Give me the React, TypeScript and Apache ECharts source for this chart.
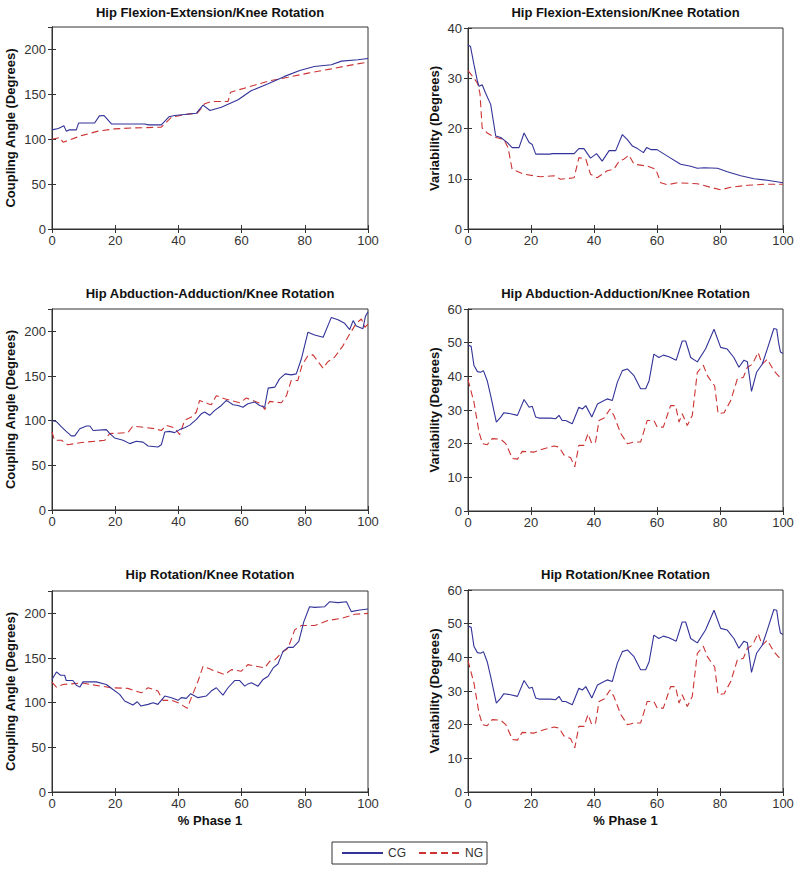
import React, { useEffect, useRef } from "react";
import * as echarts from "echarts";

// ---------- data ----------
const xTicks = { min: 0, max: 100, interval: 20 };
const seriesNames = ["CG", "NG"];
const titles = [
  "Hip Flexion-Extension/Knee Rotation",
  "Hip Flexion-Extension/Knee Rotation",
  "Hip Abduction-Adduction/Knee Rotation",
  "Hip Abduction-Adduction/Knee Rotation",
  "Hip Rotation/Knee Rotation",
  "Hip Rotation/Knee Rotation",
];
const yNames = [
  "Coupling Angle (Degrees)",
  "Variability (Degrees)",
  "Coupling Angle (Degrees)",
  "Variability (Degrees)",
  "Coupling Angle (Degrees)",
  "Variability (Degrees)",
];
const yMaxes = [225, 40, 225, 60, 225, 60];
const yIntervals = [50, 10, 50, 10, 50, 10];
const xName = "% Phase 1";

const flexCouplingCG: number[][] = [
  [0, 110.4], [2, 112], [3.8, 114.9], [4.5, 109], [5.5, 110.4], [7.7, 110.4], [8.4, 118],
  [13.5, 118], [15, 126], [16.5, 126.4], [18.8, 117], [29.3, 117], [30.5, 116], [34.6, 116],
  [37, 125], [38.8, 126.4], [45.7, 129], [47.8, 138], [50, 132], [53.6, 135.7], [58.9, 144],
  [63, 154], [68.4, 161.7], [73.6, 170], [78.4, 176.6], [83, 181], [88.4, 183], [91.6, 187],
  [96.8, 188.5], [100, 190],
];
const flexCouplingNG: number[][] = [
  [0, 100], [2.5, 102], [3.5, 96.6], [5, 98.5], [9.3, 104], [14.6, 109], [19.8, 111.5],
  [26, 112.6], [34.6, 113.4], [37.8, 124.5], [43, 128], [46, 129], [48.3, 139.4], [50.4, 142],
  [55.7, 142], [56.5, 152.4], [62, 158], [68.4, 164.7], [74.7, 169], [81, 173.6], [88.4, 178.4],
  [93.7, 182], [100, 186],
];
const flexVarCG: number[][] = [
  [0, 36.6], [0.8, 36.3], [1.9, 32.7], [3, 29.4], [3.5, 28.4], [4.5, 28.7], [5.6, 27], [7.2, 24.8],
  [8.8, 18.5], [10.4, 18.2], [12.5, 17.2], [14, 16.2], [16.2, 16.2], [17.8, 19.1], [19.4, 17.2],
  [20.4, 16.8], [21.5, 14.9], [26, 14.9], [26.8, 15], [33.7, 15], [35.2, 16], [36.8, 16],
  [38.9, 14.1], [40.8, 15], [42.6, 13.5], [44.8, 15.6], [46.9, 15.6], [49, 18.8], [50.6, 17.8],
  [52.2, 16.5], [53.8, 16], [55.7, 15.2], [56.7, 16.2], [58, 15.8], [60, 15.8], [63.3, 14.5],
  [67.5, 12.9], [70.7, 12.5], [72.8, 12.1], [75, 12.2], [79.2, 12.1], [82.3, 11.4], [86.6, 10.6],
  [90.8, 10], [95, 9.7], [100, 9.2],
];
const flexVarNG: number[][] = [
  [0, 31.5], [1.9, 30], [3, 29], [3.8, 27], [4.5, 20.1], [6.1, 19.1], [8.3, 18.3], [11.4, 17.8],
  [12.7, 16.2], [14, 11.9], [17.8, 10.9], [23, 10.4], [27.3, 10.6], [29.4, 9.9], [33.7, 10.2],
  [35.2, 14.2], [37.4, 13.9], [38.9, 10.9], [41, 10.2], [44.2, 11.6], [46.3, 11.9], [48, 13.5],
  [49.5, 13.9], [51.1, 14.7], [52.7, 12.9], [57, 12.5], [59.6, 11.9], [61.2, 9.2], [63.3, 8.8],
  [66.5, 9.2], [72.8, 9.0], [77, 8.3], [80.2, 7.8], [83.4, 8.3], [88.7, 8.7], [94, 8.9], [100, 8.9],
];
const abdCouplingCG: number[][] = [
  [0, 100], [1.4, 99], [3, 93], [4.5, 88], [6.1, 83], [7.2, 83], [8.8, 91], [10.9, 94], [12, 94],
  [13, 89], [17.2, 90], [18.3, 85.5], [19.8, 80.7], [22.5, 78], [24.6, 74.3], [26.7, 77],
  [28.8, 76], [30.4, 71.7], [33.5, 70.6], [34.6, 73], [35.7, 87.4], [37.2, 88], [38.8, 86.6],
  [40.4, 90], [42, 92], [43.6, 95], [45.7, 101.5], [47.3, 107.8], [48.3, 109.7], [49.9, 106],
  [51.5, 111.5], [53.6, 117], [55.2, 122.7], [57.3, 117.8], [58.9, 117], [60.4, 115], [62, 119],
  [64.1, 121], [65.7, 117], [67.3, 115], [68.4, 136.4], [70.5, 137.5], [72, 146.8],
  [73.8, 152.4], [75.7, 151.3], [77.3, 152.4], [78.9, 169], [81, 199], [83.1, 196],
  [85.8, 193.3], [88.4, 215.6], [90.5, 213], [92.6, 209], [94.2, 202], [95.3, 212], [96.3, 206],
  [98.4, 203], [99.2, 217], [100, 222],
];
const abdCouplingNG: number[][] = [
  [0, 87.4], [0.8, 78], [3, 78], [5, 73], [9.3, 75.5], [16.7, 78], [18.2, 85.5], [24, 86.6],
  [25.6, 94], [32.5, 91], [34.6, 89], [36.2, 94.8], [38.8, 92], [40.4, 84.4], [42, 100.4],
  [44.1, 104], [45.7, 109.7], [46.7, 122.7], [49.4, 119], [50.4, 117.8], [52, 128], [54.6, 124.5],
  [59.4, 120], [61.5, 125.3], [66.2, 119], [67.3, 112.6], [68.9, 121.6], [72.6, 120], [74.2, 128],
  [75.7, 145], [77.8, 145], [79.1, 161.7], [81, 172.9], [82.6, 173.6], [84, 167], [85.8, 158.7],
  [87.3, 166], [89.4, 171], [92.1, 184], [94.2, 197], [96.3, 209], [97.9, 213.8], [99, 204.5],
  [100, 208],
];
const abdVarCG: number[][] = [
  [0, 49.3], [1, 48.9], [1.9, 43.2], [3, 41.4], [4, 41.2], [4.9, 41.7], [6.1, 38.7], [7.2, 34.3],
  [9, 26.4], [10.4, 27.9], [11.4, 29.2], [13.5, 28.9], [15.7, 28.4], [17.8, 33.1], [19.4, 30.8],
  [20.4, 31.1], [21.5, 27.9], [22.5, 27.6], [26.2, 27.6], [27.8, 27.4], [28.9, 28.4],
  [29.9, 26.9], [31, 26.9], [33.1, 25.9], [35.2, 30.8], [36.3, 30.3], [37.4, 31.3], [39.3, 27.9],
  [41.1, 31.8], [43.2, 32.8], [44.2, 33.3], [45.8, 32.8], [47.4, 38.2], [49, 41.7], [50.6, 42.2],
  [52.7, 40.2], [54.8, 36.3], [56.4, 36.3], [57.5, 38.7], [59, 46.6], [60.6, 45.6], [62, 46.3],
  [63.8, 45.8], [66.1, 44.8], [68, 50.5], [69.1, 50.5], [70.7, 45.6], [72.8, 44.3], [75.4, 48.1],
  [78.1, 54], [80.2, 48.6], [82.3, 48.1], [84.4, 45.6], [86, 42.7], [87.6, 44.8], [88.7, 44.3],
  [90, 35.5], [91.6, 41.2], [93.4, 43.6], [95, 48.1], [97.1, 54.2], [98, 54], [98.6, 50],
  [99.2, 47.2], [100, 46.8],
];
const abdVarNG: number[][] = [
  [0, 39], [1.9, 32.3], [3.5, 23.4], [4.6, 20], [6.1, 19.7], [7.7, 21.5], [10.4, 21.3], [12, 20],
  [14.1, 15.6], [15.7, 15.4], [17.2, 17.7], [21, 17.5], [24.1, 18.5], [27.3, 19.3], [28.9, 19],
  [30.5, 16.6], [32.6, 15.8], [33.9, 13.1], [35.2, 19.5], [36.8, 19.5], [38.1, 23], [39.3, 20],
  [40.5, 20.5], [41.6, 26.9], [43.2, 27.6], [45.1, 30.3], [46.3, 28.4], [48.5, 23], [50.6, 20],
  [52.7, 20.5], [54.8, 20.5], [56.9, 26.9], [59, 26.9], [60.1, 24.9], [62, 24.9], [64.3, 31.3],
  [65.9, 31.3], [67, 26.4], [68, 28.9], [69.6, 25.4], [71.2, 28.4], [72.8, 41.2], [74.7, 43.3],
  [76, 40.2], [77.3, 38.4], [78.3, 37.2], [79.4, 28.9], [81.3, 29.2], [83.4, 32.8], [85.5, 39.2],
  [87.4, 39.7], [88.7, 42.7], [90.3, 43.6], [92.1, 47.1], [93.4, 43.6], [95, 45.1], [97.1, 41.7],
  [98.7, 40], [100, 40],
];
const rotCouplingCG: number[][] = [
  [0, 126], [1.4, 134.4], [2.7, 130.7], [4, 130.7], [4.5, 124.8], [6.6, 124.8], [7.7, 119.6],
  [8.8, 117.4], [9.8, 123.3], [14, 123.3], [17.2, 120.4], [19.3, 114.8], [21.4, 109.3],
  [23, 101.9], [25.6, 97.4], [27, 101], [28.1, 96.3], [30.4, 98.1], [32, 100], [33.5, 98.1],
  [35.7, 107.4], [37.8, 105.6], [39.9, 102.6], [40.9, 105.6], [42.5, 104.8], [43.9, 110],
  [46.2, 105.6], [48.8, 107.4], [50.4, 113], [52, 116.7], [54.1, 108.5], [55.7, 116.7],
  [57.8, 124.8], [59.4, 124.8], [61, 118.5], [62, 121], [63.1, 122.2], [65.2, 118.5], [66.8, 126],
  [68.4, 129.6], [70, 138.9], [71.5, 143.3], [73.1, 157.4], [74.7, 161.9], [76.3, 161.9],
  [78.1, 168.5], [79.7, 190.7], [81.5, 207.4], [83.1, 206.7], [86.3, 207.4], [87.9, 213],
  [90.5, 212], [93.2, 213], [94.7, 201.9], [97.4, 203.7], [100, 204.8],
];
const rotCouplingNG: number[][] = [
  [0, 123], [1.4, 117.4], [3.5, 120.4], [6.1, 121], [9.3, 122.2], [13.5, 119.6], [18.8, 116.7],
  [24, 116], [28.3, 111], [30.4, 116.7], [33.5, 113], [35.1, 102.6], [37.8, 102.6], [39.9, 100],
  [42.8, 93.7], [44.1, 105.6], [46.2, 124], [47.8, 140.7], [50.4, 137], [54.6, 131.5],
  [56.8, 137], [59.9, 135.2], [62, 142.6], [67.3, 138.9], [68.9, 146.3], [70.5, 148],
  [72.6, 155.6], [74.7, 161], [76.8, 181.5], [78.9, 186.3], [83.1, 186.3], [87.3, 191.9],
  [91.6, 194.4], [95.8, 198.9], [100, 200],
];

const panelSeries = [
  [flexCouplingCG, flexCouplingNG],
  [flexVarCG, flexVarNG],
  [abdCouplingCG, abdCouplingNG],
  [abdVarCG, abdVarNG],
  [rotCouplingCG, rotCouplingNG],
  [abdVarCG, abdVarNG],
];

// ---------- layout ----------
const grids = [
  { left: 52, top: 27, width: 316, height: 202 },
  { left: 468, top: 28, width: 315, height: 201 },
  { left: 52, top: 309, width: 316, height: 201 },
  { left: 468, top: 309, width: 315, height: 202 },
  { left: 52, top: 591, width: 316, height: 201 },
  { left: 468, top: 590, width: 315, height: 202 },
];
const titleTops = [6, 6, 287, 287, 568, 568];
const FONT = "'Liberation Sans', Arial, Helvetica, sans-serif";
const AXIS_COLOR = "#333";
const LABEL_COLOR = "#333";
const colors = ["#333399", "#cc3333"];

export default function App() {
  const ref = useRef<HTMLDivElement>(null);
  useEffect(() => {
    if (!ref.current) return;
    const chart = echarts.init(ref.current, undefined, { renderer: "svg" });

    const xAxis: any[] = [];
    const yAxis: any[] = [];
    const series: any[] = [];
    grids.forEach((g, i) => {
      const isLeft = i % 2 === 0;
      const isBottom = i >= 4;
      const common = {
        gridIndex: i,
        type: "value",
        axisLine: { show: true, lineStyle: { color: AXIS_COLOR, width: 1 } },
        axisTick: { show: true, inside: true, length: 4, lineStyle: { color: AXIS_COLOR } },
        splitLine: { show: false },
      };
      xAxis.push({
        ...common,
        position: "bottom",
        min: xTicks.min,
        max: xTicks.max,
        interval: xTicks.interval,
        axisLabel: { color: LABEL_COLOR, fontSize: 13, fontFamily: FONT, margin: 5 },
        name: isBottom ? xName : "",
        nameLocation: "middle",
        nameGap: 22,
        nameTextStyle: { fontSize: 13, fontWeight: "bold", fontFamily: FONT, color: "#111" },
      });
      xAxis.push({
        ...common,
        position: "top",
        min: xTicks.min,
        max: xTicks.max,
        interval: xTicks.interval,
        axisLabel: { show: false },
      });
      yAxis.push({
        ...common,
        position: "left",
        min: 0,
        max: yMaxes[i],
        interval: yIntervals[i],
        axisLabel: {
          color: LABEL_COLOR,
          fontSize: 13,
          fontFamily: FONT,
          margin: 6,
          showMaxLabel: yMaxes[i] % yIntervals[i] === 0,
        },
        name: yNames[i],
        nameLocation: "middle",
        nameGap: isLeft ? 35 : 27,
        nameRotate: 90,
        nameTextStyle: { fontSize: 13, fontWeight: "bold", fontFamily: FONT, color: "#111" },
      });
      yAxis.push({
        ...common,
        position: "right",
        min: 0,
        max: yMaxes[i],
        interval: yIntervals[i],
        axisLabel: { show: false },
      });
      panelSeries[i].forEach((data, s) => {
        series.push({
          type: "line",
          name: seriesNames[s],
          xAxisIndex: 2 * i,
          yAxisIndex: 2 * i,
          data,
          symbol: "none",
          showSymbol: false,
          lineStyle: {
            color: colors[s],
            width: 1.1,
            type: s === 1 ? [7, 4] : "solid",
          },
          itemStyle: { color: colors[s] },
          z: s === 0 ? 3 : 2,
        });
      });
    });

    const option: any = {
      animation: false,
      backgroundColor: "#fff",
      title: titles.map((t, i) => ({
        text: t,
        left: grids[i].left + grids[i].width / 2,
        top: titleTops[i],
        textAlign: "center",
        padding: 0,
        textStyle: { fontSize: 13, fontWeight: "bold", fontFamily: FONT, color: "#111" },
      })),
      grid: grids.map((g) => ({
        ...g,
        show: true,
        borderColor: AXIS_COLOR,
        borderWidth: 1,
        backgroundColor: "#fff",
        containLabel: false,
      })),
      xAxis,
      yAxis,
      legend: {
        data: seriesNames,
        left: 332,
        top: 842,
        orient: "horizontal",
        itemWidth: 41,
        itemHeight: 12,
        itemGap: 12,
        padding: [5, 4, 5, 9],
        borderColor: AXIS_COLOR,
        borderWidth: 1,
        borderRadius: 0,
        itemStyle: { opacity: 0 },
        textStyle: { fontSize: 12, fontFamily: FONT, color: LABEL_COLOR },
      },
      series,
    };
    chart.setOption(option);
    return () => chart.dispose();
  }, []);

  return (
    <div
      ref={ref}
      style={{ position: "absolute", left: 0, top: 0, width: 800, height: 881, background: "#fff" }}
    />
  );
}
